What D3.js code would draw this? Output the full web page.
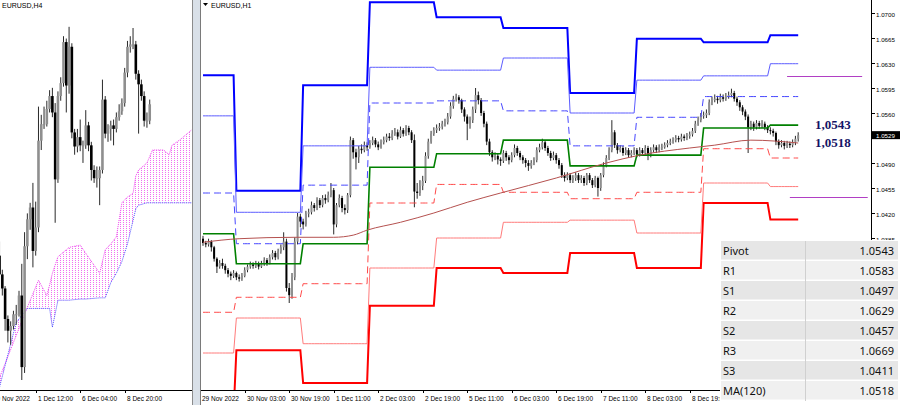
<!DOCTYPE html>
<html>
<head>
<meta charset="utf-8">
<script src="https://cdn.jsdelivr.net/npm/d3@7"></script>
<style>
  html, body { margin: 0; padding: 0; background: #fff; }
  svg { display: block; font-family: "Liberation Sans", Arial, sans-serif; }
</style>
</head>
<body>
<svg id="chart" width="900" height="405"></svg>
<script>
'use strict';

/** H1 bars, 29 Nov 12:00 .. 12 Dec 10:00 */
var h1Close = [
  1.0378,1.0376,1.0380,1.0372,1.0356,1.0345,1.0350,1.0346,1.0340,1.0335,1.0332,1.0336,
  1.0330,1.0328,1.0332,1.0340,1.0345,1.0348,1.0346,1.0350,1.0345,1.0349,1.0354,1.0350,
  1.0358,1.0364,1.0358,1.0366,1.0372,1.0380,1.0315,1.0305,1.0330,1.0380,1.0415,1.0408,
  1.0404,1.0419,1.0421,1.0431,1.0427,1.0438,1.0431,1.0441,1.0438,1.0445,1.0452,1.0404,
  1.0431,1.0441,1.0427,1.0424,1.0445,1.0522,1.0505,1.0498,1.0510,1.0508,1.0515,1.0512,
  1.0518,1.0522,1.0516,1.0512,1.0519,1.0522,1.0527,1.0525,1.0531,1.0533,1.0527,1.0536,
  1.0531,1.0539,1.0533,1.0522,1.0450,1.0448,1.0458,1.0465,1.0500,1.0520,1.0531,1.0536,
  1.0539,1.0541,1.0545,1.0547,1.0555,1.0570,1.0580,1.0582,1.0578,1.0565,1.0555,1.0545,
  1.0550,1.0565,1.0585,1.0578,1.0560,1.0545,1.0520,1.0505,1.0498,1.0500,1.0495,1.0493,
  1.0504,1.0498,1.0494,1.0501,1.0511,1.0504,1.0498,1.0494,1.0490,1.0486,1.0490,1.0494,
  1.0508,1.0512,1.0519,1.0511,1.0504,1.0497,1.0501,1.0494,1.0487,1.0473,1.0469,1.0473,
  1.0466,1.0469,1.0473,1.0466,1.0469,1.0462,1.0473,1.0466,1.0459,1.0469,1.0455,1.0473,
  1.0487,1.0497,1.0508,1.0533,1.0515,1.0508,1.0511,1.0504,1.0508,1.0501,1.0504,1.0508,
  1.0502,1.0508,1.0504,1.0511,1.0502,1.0508,1.0512,1.0508,1.0512,1.0512,1.0515,1.0518,
  1.0520,1.0522,1.0525,1.0523,1.0527,1.0525,1.0528,1.0530,1.0535,1.0545,1.0550,1.0556,
  1.0557,1.0560,1.0575,1.0578,1.0580,1.0578,1.0582,1.0580,1.0583,1.0585,1.0588,1.0580,
  1.0575,1.0568,1.0562,1.0555,1.0540,1.0545,1.0540,1.0546,1.0542,1.0545,1.0540,1.0536,
  1.0535,1.0532,1.0520,1.0515,1.0518,1.0514,1.0517,1.0515,1.0519,1.0524,1.0529
];
var h1High = [
  1.0388,1.0381,1.0384,1.0382,1.0374,1.0358,1.0354,1.0356,1.0349,1.0343,1.0338,1.0340,
  1.0338,1.0334,1.0336,1.0344,1.0348,1.0352,1.0351,1.0353,1.0352,1.0353,1.0358,1.0357,
  1.0362,1.0368,1.0367,1.0370,1.0376,1.0393,1.0384,1.0322,1.0336,1.0386,1.0420,1.0419,
  1.0412,1.0423,1.0426,1.0436,1.0434,1.0442,1.0441,1.0445,1.0446,1.0450,1.0462,1.0455,
  1.0434,1.0446,1.0444,1.0432,1.0448,1.0527,1.0525,1.0510,1.0514,1.0516,1.0520,1.0519,
  1.0522,1.0527,1.0525,1.0520,1.0523,1.0527,1.0531,1.0532,1.0536,1.0539,1.0537,1.0541,
  1.0539,1.0543,1.0542,1.0536,1.0530,1.0462,1.0466,1.0472,1.0505,1.0524,1.0535,1.0540,
  1.0544,1.0546,1.0549,1.0552,1.0560,1.0575,1.0584,1.0587,1.0585,1.0580,1.0568,1.0558,
  1.0555,1.0569,1.0595,1.0590,1.0581,1.0563,1.0548,1.0524,1.0508,1.0505,1.0504,1.0498,
  1.0508,1.0507,1.0501,1.0505,1.0516,1.0514,1.0507,1.0501,1.0497,1.0494,1.0494,1.0498,
  1.0512,1.0517,1.0524,1.0522,1.0514,1.0507,1.0506,1.0504,1.0497,1.0490,1.0477,1.0477,
  1.0476,1.0473,1.0477,1.0476,1.0473,1.0472,1.0476,1.0476,1.0469,1.0472,1.0471,1.0476,
  1.0491,1.0501,1.0512,1.0550,1.0536,1.0518,1.0515,1.0514,1.0512,1.0511,1.0508,1.0512,
  1.0511,1.0512,1.0511,1.0515,1.0514,1.0512,1.0516,1.0515,1.0516,1.0517,1.0519,1.0522,
  1.0524,1.0526,1.0529,1.0528,1.0531,1.0530,1.0532,1.0534,1.0539,1.0549,1.0555,1.0560,
  1.0562,1.0565,1.0579,1.0583,1.0586,1.0584,1.0587,1.0586,1.0588,1.0590,1.0594,1.0591,
  1.0583,1.0578,1.0571,1.0565,1.0558,1.0549,1.0548,1.0550,1.0549,1.0550,1.0548,1.0543,
  1.0540,1.0538,1.0534,1.0523,1.0522,1.0521,1.0521,1.0520,1.0523,1.0528,1.0533
];
var h1Low = [
  1.0374,1.0372,1.0373,1.0366,1.0352,1.0336,1.0342,1.0342,1.0335,1.0330,1.0326,1.0329,
  1.0326,1.0324,1.0325,1.0330,1.0337,1.0342,1.0342,1.0343,1.0341,1.0343,1.0346,1.0346,
  1.0348,1.0355,1.0354,1.0355,1.0363,1.0368,1.0310,1.0294,1.0300,1.0326,1.0376,1.0400,
  1.0397,1.0401,1.0414,1.0418,1.0422,1.0424,1.0427,1.0428,1.0433,1.0435,1.0442,1.0390,
  1.0400,1.0428,1.0421,1.0418,1.0420,1.0442,1.0496,1.0481,1.0490,1.0503,1.0505,1.0507,
  1.0510,1.0515,1.0512,1.0508,1.0510,1.0516,1.0519,1.0521,1.0522,1.0528,1.0523,1.0525,
  1.0527,1.0528,1.0529,1.0518,1.0428,1.0440,1.0444,1.0452,1.0462,1.0496,1.0517,1.0528,
  1.0532,1.0535,1.0537,1.0541,1.0544,1.0552,1.0566,1.0576,1.0573,1.0560,1.0548,1.0522,
  1.0538,1.0546,1.0560,1.0572,1.0556,1.0540,1.0515,1.0500,1.0492,1.0494,1.0488,1.0486,
  1.0490,1.0493,1.0488,1.0491,1.0498,1.0500,1.0494,1.0489,1.0484,1.0479,1.0482,1.0487,
  1.0491,1.0505,1.0509,1.0507,1.0500,1.0493,1.0494,1.0489,1.0482,1.0469,1.0464,1.0466,
  1.0462,1.0462,1.0465,1.0462,1.0462,1.0458,1.0459,1.0462,1.0455,1.0456,1.0443,1.0451,
  1.0470,1.0484,1.0494,1.0505,1.0511,1.0503,1.0505,1.0500,1.0501,1.0497,1.0498,1.0501,
  1.0498,1.0499,1.0500,1.0501,1.0494,1.0498,1.0505,1.0504,1.0505,1.0508,1.0510,1.0512,
  1.0515,1.0517,1.0519,1.0519,1.0520,1.0521,1.0522,1.0524,1.0527,1.0532,1.0542,1.0547,
  1.0552,1.0553,1.0557,1.0571,1.0575,1.0573,1.0575,1.0576,1.0577,1.0580,1.0582,1.0576,
  1.0570,1.0563,1.0557,1.0550,1.0504,1.0536,1.0535,1.0537,1.0538,1.0539,1.0536,1.0532,
  1.0530,1.0527,1.0515,1.0510,1.0512,1.0509,1.0511,1.0511,1.0512,1.0515,1.0520
];
var h1FirstOpen = 1.0384;

/** daily pivot levels, one value per trading day shown */
var dayStartBar = [0, 12, 36, 60, 84, 108, 132, 156, 180, 204];
var levelR3 = [1.0613, 1.0451, 1.0599, 1.0715, 1.0694, 1.0679, 1.0588, 1.0664, 1.0659, 1.0669];
var levelR2 = [1.0556, 1.0421, 1.0514, 1.0624, 1.0620, 1.0637, 1.0560, 1.0606, 1.0612, 1.0629];
var levelR1 = [1.0448, 1.0377, 1.0459, 1.0574, 1.0577, 1.0563, 1.0514, 1.0554, 1.0583, 1.0583];
var levelP  = [1.0391, 1.0349, 1.0377, 1.0484, 1.0503, 1.0522, 1.0486, 1.0501, 1.0539, 1.0543];
var levelS1 = [1.0281, 1.0302, 1.0321, 1.0434, 1.0460, 1.0449, 1.0440, 1.0449, 1.0510, 1.0497];
var levelS2 = [1.0224, 1.0273, 1.0237, 1.0343, 1.0385, 1.0407, 1.0410, 1.0392, 1.0462, 1.0457];
var levelS3 = [1.0140, 1.0228, 1.0182, 1.0290, 1.0343, 1.0336, 1.0364, 1.0343, 1.0434, 1.0411];

/** MA(120) read at some bars */
var maBar = [0, 13, 33, 47, 54, 59, 71, 83, 95, 107, 127, 145, 157, 175, 184, 197, 214];
var maValue = [1.0379, 1.0384, 1.0386, 1.0386, 1.0389, 1.0396, 1.0407, 1.0420, 1.0435, 1.0448,
  1.0469, 1.0490, 1.0501, 1.0511, 1.0515, 1.0522, 1.0518];

/** two purple levels on the right */
var extraLevels = [1.0612, 1.0442];
var extraFrom = [210, 211];
var extraTo = [237, 239];

var h1TickBar = [0, 15, 31, 47, 63, 79, 95, 111, 127, 143, 159, 175];
var h1TickLabel = ['29 Nov 2022', '30 Nov 03:00', '30 Nov 19:00', '1 Dec 11:00', '2 Dec 03:00',
  '2 Dec 19:00', '5 Dec 11:00', '6 Dec 03:00', '6 Dec 19:00', '7 Dec 11:00', '8 Dec 03:00',
  '8 Dec 19:00'];
var priceTicks = [1.0700, 1.0665, 1.0630, 1.0595, 1.0560, 1.0490, 1.0455, 1.0420, 1.0385];

var noteValues = [1.0543, 1.0518];
var noteLabels = ['1,0543', '1,0518'];

var tableNames = ['Pivot', 'R1', 'S1', 'R2', 'S2', 'R3', 'S3', 'MA(120)'];
var tableValues = ['1.0543', '1.0583', '1.0497', '1.0629', '1.0457', '1.0669', '1.0411', '1.0518'];

/** H4 bars, index 0 = 1 Dec 12:00 */
var h4Start = -13;
var h4Open = [1.0400,1.0384,1.0372,1.0346,1.0336,1.0340,1.0350,1.0350,1.0366,1.0305,1.0408,1.0431,1.0441,
  1.0404,1.0424,1.0498,1.0512,1.0512,1.0525,1.0536,1.0522,1.0465,1.0536,1.0547,1.0582,1.0545,1.0578,
  1.0505,1.0493,1.0501,1.0494,1.0494,1.0511,1.0494,1.0473,1.0466,1.0466,1.0473,1.0533,1.0504,1.0508,
  1.0511,1.0508,1.0518,1.0523,1.0530,1.0556,1.0578,1.0580,1.0580,1.0555,1.0546,1.0536,1.0515,1.0515];
var h4High = [1.0412,1.0388,1.0374,1.0349,1.0344,1.0353,1.0358,1.0370,1.0393,1.0420,1.0436,1.0445,1.0462,
  1.0446,1.0527,1.0520,1.0527,1.0532,1.0541,1.0543,1.0530,1.0540,1.0552,1.0587,1.0585,1.0595,1.0581,
  1.0508,1.0508,1.0516,1.0498,1.0524,1.0514,1.0497,1.0477,1.0476,1.0476,1.0550,1.0536,1.0512,1.0515,
  1.0516,1.0522,1.0529,1.0534,1.0560,1.0583,1.0587,1.0594,1.0583,1.0558,1.0550,1.0540,1.0522,1.0533];
var h4Low = [1.0370,1.0366,1.0336,1.0326,1.0324,1.0337,1.0341,1.0348,1.0294,1.0300,1.0397,1.0422,1.0390,
  1.0400,1.0420,1.0490,1.0508,1.0510,1.0522,1.0518,1.0428,1.0462,1.0532,1.0544,1.0522,1.0538,1.0500,
  1.0486,1.0488,1.0489,1.0479,1.0491,1.0489,1.0464,1.0462,1.0458,1.0443,1.0470,1.0500,1.0497,1.0498,
  1.0494,1.0505,1.0515,1.0520,1.0527,1.0552,1.0573,1.0576,1.0550,1.0504,1.0532,1.0510,1.0509,1.0512];
var h4Close = [1.0384,1.0372,1.0346,1.0336,1.0340,1.0350,1.0350,1.0366,1.0305,1.0408,1.0431,1.0441,1.0404,
  1.0424,1.0498,1.0512,1.0512,1.0525,1.0536,1.0522,1.0465,1.0536,1.0547,1.0582,1.0545,1.0578,1.0505,
  1.0493,1.0501,1.0494,1.0494,1.0511,1.0494,1.0473,1.0466,1.0466,1.0473,1.0533,1.0504,1.0508,1.0511,
  1.0508,1.0518,1.0523,1.0530,1.0556,1.0578,1.0580,1.0580,1.0555,1.0546,1.0536,1.0515,1.0515,1.0529];

/** Ichimoku cloud edges */
var cloudBar = [-13, -7, -3, 1, 4, 5, 6, 8, 12, 16, 18, 23, 25, 27, 29, 31, 33, 35, 36, 37, 40, 42, 46, 48, 49, 52, 56];
var cloudA = [1.0296, 1.0332, 1.0356, 1.0379, 1.0366, 1.0375, 1.0385, 1.0399, 1.0407, 1.0409, 1.0402, 1.0385,
  1.0405, 1.0410, 1.0416, 1.0445, 1.0450, 1.0453, 1.0468, 1.0473, 1.0479, 1.0490, 1.0490, 1.0486, 1.0494, 1.0499, 1.0507];
var cloudB = [1.0288, 1.0343, 1.0355, 1.0355, 1.0355, 1.0355, 1.0339, 1.0362, 1.0362, 1.0363, 1.0363, 1.0364,
  1.0364, 1.0377, 1.0385, 1.0395, 1.0410, 1.0430, 1.0440, 1.0443, 1.0445, 1.0445, 1.0445, 1.0445, 1.0445, 1.0445, 1.0445];

var h4TickBar = [-16, 0, 16, 32];
var h4TickLabel = ['29 Nov 2022', '1 Dec 12:00', '6 Dec 04:00', '8 Dec 20:00'];

(function (d3) {
  var svg = d3.select('#chart');
  var defs = svg.append('defs');

  defs.append('clipPath').attr('id', 'clipH4').append('rect')
    .attr('x', 0).attr('y', 0).attr('width', 192).attr('height', 390);
  defs.append('clipPath').attr('id', 'clipH1').append('rect')
    .attr('x', 201).attr('y', 0).attr('width', 670).attr('height', 390);
  var pat = defs.append('pattern').attr('id', 'cloudDots').attr('patternUnits', 'userSpaceOnUse')
    .attr('width', 3).attr('height', 2);
  pat.append('rect').attr('x', 0).attr('y', 0).attr('width', 1).attr('height', 1).attr('fill', '#f070f0');

  var drawCandles = function (g, x, y, opens, highs, lows, closes, offset, bodyW) {
    var idx = d3.range(closes.length);
    g.selectAll('line.wick').data(idx).enter().append('line')
      .attr('class', 'wick')
      .attr('x1', function (i) { return x(i + offset); })
      .attr('x2', function (i) { return x(i + offset); })
      .attr('y1', function (i) { return y(highs[i]); })
      .attr('y2', function (i) { return y(lows[i]); })
      .attr('stroke', '#2a2a2a').attr('stroke-width', 1);
    g.selectAll('rect.body').data(idx).enter().append('rect')
      .attr('class', 'body')
      .attr('x', function (i) { return x(i + offset) - bodyW / 2; })
      .attr('width', bodyW)
      .attr('y', function (i) { return y(Math.max(opens[i], closes[i])); })
      .attr('height', function (i) { return Math.max(1, Math.abs(y(opens[i]) - y(closes[i]))); })
      .attr('fill', function (i) { return closes[i] >= opens[i] ? '#8f8f8f' : '#000'; });
  };

  /** ---------- left H4 panel ---------- */
  var h4X = d3.scaleLinear().domain([0, 16]).range([35.7, 80.2]);
  var h4Y = d3.scaleLinear().domain([1.0594, 1.0294]).range([28, 380]);
  var h4 = svg.append('g').attr('clip-path', 'url(#clipH4)');

  var cloudIdx = d3.range(cloudBar.length);
  h4.append('path').datum(cloudIdx)
    .attr('d', d3.area()
      .x(function (i) { return h4X(cloudBar[i]); })
      .y0(function (i) { return h4Y(cloudB[i]); })
      .y1(function (i) { return h4Y(cloudA[i]); }))
    .attr('fill', 'url(#cloudDots)');
  h4.append('path').datum(cloudIdx)
    .attr('d', d3.line().x(function (i) { return h4X(cloudBar[i]); }).y(function (i) { return h4Y(cloudA[i]); }))
    .attr('fill', 'none').attr('stroke', '#f040f0').attr('stroke-dasharray', '1,1');
  h4.append('path').datum(cloudIdx)
    .attr('d', d3.line().x(function (i) { return h4X(cloudBar[i]); }).y(function (i) { return h4Y(cloudB[i]); }))
    .attr('fill', 'none').attr('stroke', '#4a4aff').attr('stroke-dasharray', '1,1');

  drawCandles(h4.append('g'), h4X, h4Y, h4Open, h4High, h4Low, h4Close, h4Start, 2.6);

  svg.append('text').attr('x', 2).attr('y', 8).attr('font-size', 7).attr('fill', '#000').text('EURUSD,H4');

  svg.append('line').attr('x1', 0).attr('x2', 192).attr('y1', 390.5).attr('y2', 390.5)
    .attr('stroke', '#000');
  var h4Ticks = svg.append('g');
  h4TickBar.forEach(function (b, n) {
    var tx = Math.round(h4X(b)) + 0.5;
    h4Ticks.append('line').attr('x1', tx).attr('x2', tx).attr('y1', 390).attr('y2', 393).attr('stroke', '#000');
    h4Ticks.append('text').attr('x', tx + 1.5).attr('y', 400.5).attr('font-size', 6.5).attr('fill', '#000')
      .text(h4TickLabel[n]);
  });

  /** separator between the two windows */
  svg.append('rect').attr('x', 192).attr('y', 0).attr('width', 8).attr('height', 405).attr('fill', '#d9e0e8');
  svg.append('line').attr('x1', 192.5).attr('x2', 192.5).attr('y1', 0).attr('y2', 405).attr('stroke', '#8c8c8c');
  svg.append('line').attr('x1', 200.5).attr('x2', 200.5).attr('y1', 0).attr('y2', 405).attr('stroke', '#7a7a7a');

  /** ---------- right H1 panel ---------- */
  var x = d3.scaleLinear().domain([0, 16]).range([203, 247.5]);
  var y = d3.scaleLinear().domain([1.0700, 1.0385]).range([13, 238]);
  var h1 = svg.append('g').attr('clip-path', 'url(#clipH1)');

  var h1Open = h1Close.map(function (c, i) { return i === 0 ? h1FirstOpen : h1Close[i - 1]; });
  drawCandles(h1.append('g'), x, y, h1Open, h1High, h1Low, h1Close, 0, 2);

  var dayOf = function (i) {
    var d = 0;
    while (d + 1 < dayStartBar.length && i >= dayStartBar[d + 1]) { d++; }
    return d;
  };
  var bars = d3.range(h1Close.length);
  var levelLine = function (levels) {
    return d3.line().x(function (i) { return x(i); }).y(function (i) { return y(levels[dayOf(i)]); });
  };
  var pivotSets = [
    { levels: levelS3, color: '#ff0000', width: 2, dash: null },
    { levels: levelS2, color: '#ff7b7b', width: 1, dash: null },
    { levels: levelS1, color: '#ff4a4a', width: 1, dash: '7,4' },
    { levels: levelR3, color: '#0000ff', width: 2, dash: null },
    { levels: levelR2, color: '#5c5cff', width: 1, dash: null },
    { levels: levelR1, color: '#4747ff', width: 1, dash: '7,4' },
    { levels: levelP, color: '#008000', width: 1.6, dash: null }
  ];
  pivotSets.forEach(function (s) {
    h1.append('path').datum(bars).attr('d', levelLine(s.levels))
      .attr('fill', 'none').attr('stroke', s.color).attr('stroke-width', s.width)
      .attr('stroke-dasharray', s.dash);
  });

  var maIdx = d3.range(maBar.length);
  h1.append('path').datum(maIdx)
    .attr('d', d3.line().curve(d3.curveMonotoneX)
      .x(function (i) { return x(maBar[i]); }).y(function (i) { return y(maValue[i]); }))
    .attr('fill', 'none').attr('stroke', '#b5514f').attr('stroke-width', 1);

  extraLevels.forEach(function (v, n) {
    h1.append('line').attr('x1', x(extraFrom[n])).attr('x2', x(extraTo[n]))
      .attr('y1', Math.round(y(v)) + 0.5).attr('y2', Math.round(y(v)) + 0.5)
      .attr('stroke', '#b13fc4').attr('stroke-width', 1);
  });

  noteValues.forEach(function (v, n) {
    svg.append('text').attr('x', x(220)).attr('y', y(v)).attr('dy', '0.33em')
      .attr('font-family', '"Liberation Serif", "Times New Roman", serif')
      .attr('font-weight', 'bold').attr('font-size', 13).attr('fill', '#141466')
      .text(noteLabels[n]);
  });

  svg.append('path').attr('d', 'M203,3 L208,3 L205.5,6 Z').attr('fill', '#000');
  svg.append('text').attr('x', 211).attr('y', 8).attr('font-size', 7).attr('fill', '#000').text('EURUSD,H1');

  /** price axis */
  svg.append('line').attr('x1', 871.5).attr('x2', 871.5).attr('y1', 0).attr('y2', 391).attr('stroke', '#000');
  var pAxis = svg.append('g');
  priceTicks.forEach(function (p) {
    var ty = Math.round(y(p)) + 0.5;
    pAxis.append('line').attr('x1', 871).attr('x2', 875).attr('y1', ty).attr('y2', ty).attr('stroke', '#000');
    pAxis.append('text').attr('x', 876).attr('y', ty + 3).attr('font-size', 6.2).attr('fill', '#000')
      .text(d3.format('.4f')(p));
  });
  var last = h1Close[h1Close.length - 1];
  pAxis.append('rect').attr('x', 872).attr('y', y(last) - 4).attr('width', 28).attr('height', 8).attr('fill', '#000');
  pAxis.append('text').attr('x', 876).attr('y', y(last) + 2.5).attr('font-size', 6.2).attr('fill', '#fff')
    .text(d3.format('.4f')(last));

  /** time axis */
  svg.append('line').attr('x1', 201).attr('x2', 872).attr('y1', 390.5).attr('y2', 390.5).attr('stroke', '#000');
  var tAxis = svg.append('g');
  h1TickBar.forEach(function (b, n) {
    var tx = Math.round(x(b)) + 0.5;
    if (n > 0) {
      tAxis.append('line').attr('x1', tx).attr('x2', tx).attr('y1', 390).attr('y2', 393).attr('stroke', '#000');
    }
    tAxis.append('text').attr('x', n > 0 ? tx + 1.5 : 202).attr('y', 400.5).attr('font-size', 6.5)
      .attr('fill', '#000').text(h1TickLabel[n]);
  });

  /** levels table */
  var table = svg.append('g');
  var rowH = 20;
  var top = 241;
  table.append('rect').attr('x', 720).attr('y', top - 1).attr('width', 180).attr('height', rowH * tableNames.length + 2)
    .attr('fill', '#fff');
  tableNames.forEach(function (name, r) {
    var ry = top + r * rowH;
    table.append('rect').attr('x', 721).attr('y', ry).attr('width', 177).attr('height', rowH - 1.5)
      .attr('fill', r % 2 === 0 ? '#e6e6e6' : '#f0f0f0');
    table.append('text').attr('x', 723).attr('y', ry + 14).attr('font-family', '"Noto Sans", sans-serif')
      .attr('font-size', 11).attr('fill', '#111').text(name);
    table.append('text').attr('x', 894).attr('y', ry + 14).attr('text-anchor', 'end')
      .attr('font-family', '"Noto Sans", sans-serif').attr('font-size', 11).attr('fill', '#111')
      .text(tableValues[r]);
  });
  table.append('line').attr('x1', 805.5).attr('x2', 805.5).attr('y1', top).attr('y2', top + rowH * tableNames.length)
    .attr('stroke', '#d0d0d0');
})(d3);
</script>
</body>
</html>
